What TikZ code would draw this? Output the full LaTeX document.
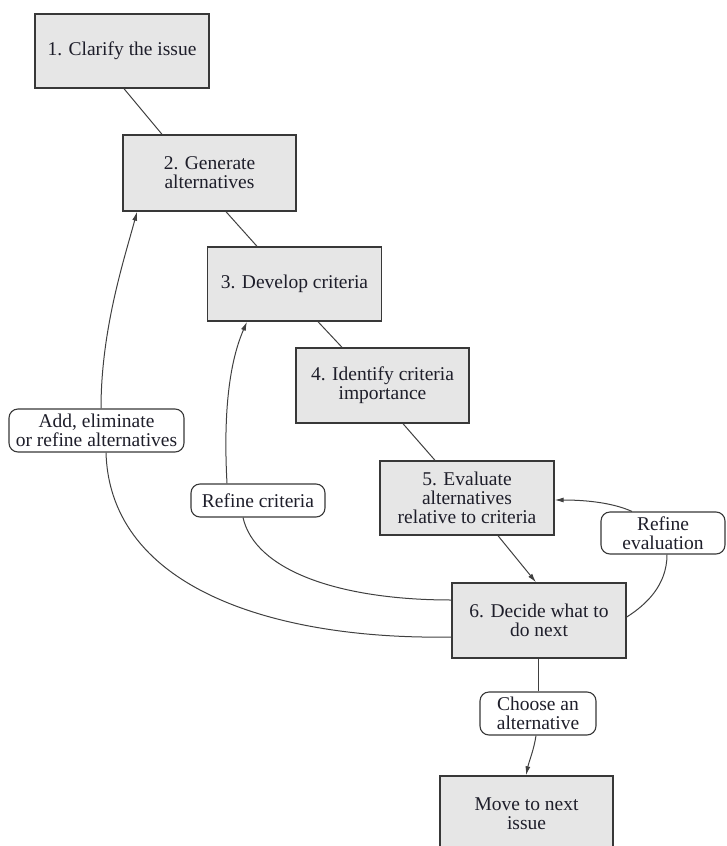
\documentclass[tikz,border=0pt]{standalone}
\usepackage{fontspec}
\setmainfont{Liberation Serif}
\usetikzlibrary{arrows.meta,calc}
\definecolor{boxfill}{HTML}{E6E6E6}
\definecolor{boxline}{HTML}{383838}
\definecolor{linkc}{HTML}{404040}
\definecolor{txt}{HTML}{1E1E2A}
\newcommand\labelfont{\fontsize{19.5}{19}\selectfont}
\tikzset{
  stepbox/.style={draw=boxline, line width=1.4pt, fill=boxfill,
    minimum width=174pt, minimum height=75pt, inner sep=0pt,
    align=center, font=\labelfont, text=txt},
  tagbox/.style={draw=boxline, line width=1.1pt, fill=white,
    rounded corners=9pt, inner sep=0pt, align=center,
    font=\labelfont, text=txt},
  link/.style={draw=linkc, line width=1pt},
  arr/.style={link, -{Latex[length=9pt,width=5pt]}},
}
\begin{document}
\begin{tikzpicture}[x=1pt,y=-1pt]
\useasboundingbox (0,0) rectangle (726,846);

% process steps
\node[stepbox, minimum height=74pt] (n1) at (122,51) {1. Clarify the issue};
\node[stepbox, minimum width=173pt, minimum height=76pt] (n2) at (209.5,173) {2. Generate\\alternatives};
\node[stepbox, minimum height=74pt] (n3) at (294.5,284) {3. Develop criteria};
\node[stepbox, minimum width=173pt] (n4) at (382.5,385.5) {4. Identify criteria\\importance};
\node[stepbox, minimum height=74pt] (n5) at (467,498) {5. Evaluate\\alternatives\\relative to criteria};
\node[stepbox] (n6) at (539,620.5) {6. Decide what to\\do next};
\node[stepbox, minimum width=173pt] (n7) at (526.5,813.5) {Move to next\\issue};

% feedback labels
\node[tagbox, minimum width=175pt, minimum height=43pt] (tadd) at (96.5,430.5) {Add, eliminate\\or refine alternatives};
\node[tagbox, minimum width=134pt, minimum height=33pt] (tcrit) at (258,500.5) {Refine criteria};
\node[tagbox, minimum width=124pt, minimum height=42pt] (teval) at (663,533) {Refine\\evaluation};
\node[tagbox, minimum width=116pt, minimum height=43pt] (tchoose) at (538,713.5) {Choose an\\alternative};

% main sequence
\draw[link] ([xshift=2pt]n1.south) -- ([xshift=-47.5pt]n2.north);
\draw[link] ([xshift=16.5pt]n2.south) -- ([xshift=-37.5pt]n3.north);
\draw[link] ([xshift=23.5pt]n3.south) -- ([xshift=-40.5pt]n4.north);
\draw[link] ([xshift=20.5pt]n4.south) -- ([xshift=-32pt]n5.north);
\draw[arr] ([xshift=31pt]n5.south) -- ([xshift=-3pt]n6.north);
\draw[link] ([xshift=-1pt]n6.south) -- (tchoose.north);
\draw[arr] ([xshift=-2pt]tchoose.south) .. controls +(-2,14) and +(3,-14) .. ([xshift=-0.5pt]n7.north);

% feedback loops
\draw[link] ([xshift=9.5pt]tadd.south) .. controls +(4,138) and +(-172,3) .. ([yshift=-16.5pt]n6.west);
\draw[arr] ([xshift=4.5pt]tadd.north) .. controls +(0,-80) and +(-12,45) .. ([xshift=-72.5pt]n2.south);

\draw[link] ([xshift=-15pt]tcrit.south) .. controls +(12,53) and +(-112,0) .. ([yshift=20.5pt]n6.west);
\draw[arr] ([xshift=-31pt]tcrit.north) .. controls +(-4,-74) and +(-17,39) .. ([xshift=-47.5pt]n3.south);

\draw[link] ([xshift=4pt]teval.south) .. controls +(0,31) and +(19,-12) .. ([yshift=3.5pt]n6.east);
\draw[arr] ([xshift=-31pt]teval.north) .. controls +(-22,-10) and +(25,0) .. ([yshift=-2pt]n5.east);
\end{tikzpicture}
\end{document}
